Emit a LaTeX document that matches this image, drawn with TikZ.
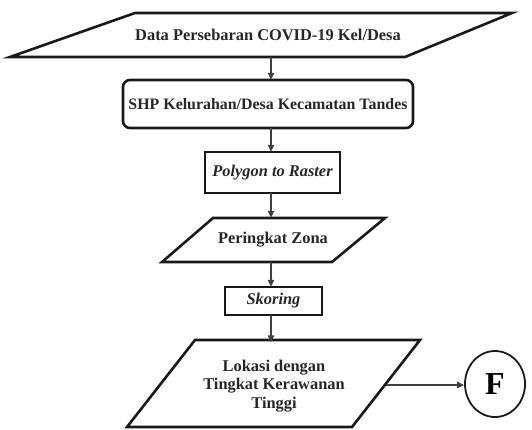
\documentclass[tikz,border=0pt]{standalone}
\usepackage{fontspec}
\setmainfont{Liberation Serif}
\usetikzlibrary{arrows.meta,shapes.geometric}
\begin{document}
\begin{tikzpicture}[x=1pt,y=-1pt,
  shapeline/.style={line width=2.6pt,line join=miter,draw=black!90},
  lbl/.style={font=\fontsize{16.4}{18.5}\selectfont\bfseries,align=center,inner sep=0pt,text=black!85},
  arr/.style={line width=1.4pt,draw=black!75,-{Triangle[length=7pt,width=6.5pt]}}]
\useasboundingbox (0,0) rectangle (532,429);
% shape outlines
\draw[shapeline] (135,13) -- (512,13) -- (405,57) -- (10,57) -- cycle;
\draw[shapeline,rounded corners=7pt] (123,80) rectangle (413,128);
\draw[shapeline] (205,152) rectangle (340,193);
\draw[shapeline] (213,218) -- (385,218) -- (332,262) -- (162,262) -- cycle;
\draw[shapeline] (225,287) rectangle (322,315);
\draw[shapeline] (195,340) -- (420,340) -- (352,427) -- (127,427) -- cycle;
% labels / nodes
\coordinate (ax) at (271,0);
\node[lbl,minimum height=44pt] (n1) at (268,35) {Data Persebaran COVID-19 Kel/Desa};
\node[lbl,minimum height=48pt,font=\fontsize{15.9}{18}\selectfont\bfseries] (n2) at (268,104) {SHP Kelurahan/Desa Kecamatan Tandes};
\node[lbl,minimum height=41pt] (n3) at (272.5,172.5) {\itshape Polygon to Raster};
\node[lbl,minimum height=44pt] (n4) at (273,240) {Peringkat Zona};
\node[lbl,minimum height=28pt] (n5) at (273.5,301) {\itshape Skoring};
\node[lbl,minimum height=87pt] (n6) at (274,386) {Lokasi dengan\\Tingkat Kerawanan\\Tinggi};
\node[ellipse,draw=black!90,line width=1.8pt,minimum width=60pt,minimum height=66pt,inner sep=0pt,
      font=\fontsize{32}{32}\selectfont\bfseries] (f) at (495,384) {F};
\coordinate (n6r) at (386,385);
% connectors
\draw[arr] (n1.south -| ax) -- (n2.north -| ax);
\draw[arr] (n2.south -| ax) -- (n3.north -| ax);
\draw[arr] (n3.south -| ax) -- (n4.north -| ax);
\draw[arr] (n4.south -| ax) -- (n5.north -| ax);
\draw[arr] (n5.south -| ax) -- (n6.north -| ax);
\draw[arr] (n6r) -- (f.west |- n6r);
\end{tikzpicture}
\end{document}
